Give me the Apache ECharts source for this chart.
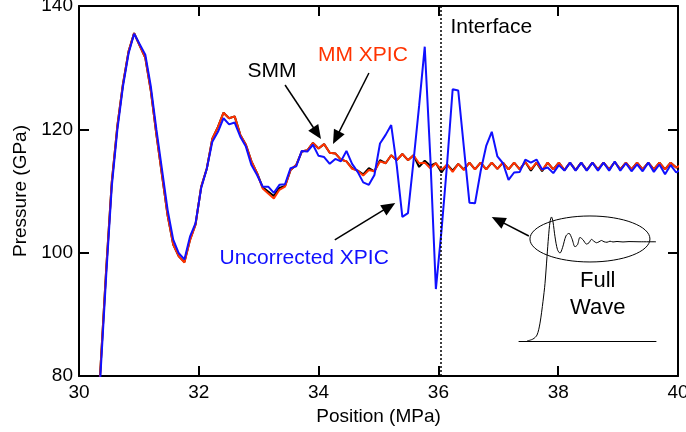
<!DOCTYPE html>
<html><head><meta charset="utf-8">
<script src="https://cdn.jsdelivr.net/npm/echarts/dist/echarts.min.js"></script>
<style>html,body{margin:0;padding:0;background:#fff}#c{width:686px;height:432px}</style>
</head><body><div id="c"></div>
<script>
// Positions (MPa) of the samples
const positions = [
 30.267,30.360,30.454,30.547,30.640,30.733,30.827,
 30.920,31.013,31.107,31.200,31.293,31.387,31.480,31.573,31.666,31.760,
 31.853,31.946,32.040,32.133,32.226,32.320,32.413,32.506,32.599,32.693,
 32.786,32.879,32.973,33.066,33.159,33.253,33.346,33.439,33.532,33.626,
 33.719,33.812,33.906,33.999,34.092,34.186,34.279,34.372,34.465,34.559,
 34.652,34.745,34.839,34.932,35.025,35.119,35.212,35.305,35.398,35.492,
 35.585,35.678,35.772,35.865,35.958,36.052,36.145,36.238,36.331,36.425,
 36.518,36.611,36.705,36.798,36.891,36.985,37.078,37.171,37.264,37.358,
 37.451,37.544,37.638,37.731,37.824,37.918,38.011,38.104,38.197,38.291,
 38.384,38.477,38.571,38.664,38.757,38.851,38.944,39.037,39.130,39.224,
 39.317,39.410,39.504,39.597,39.690,39.784,39.877,39.970,40.063
];
// MM XPIC (red)
const mmXpic = [
 67,81.5,97.3,111.4,120.5,127.3,132.6,
 135.6,133.6,131.6,126.2,119.1,112.5,106.0,101.3,99.4,98.4,
 102.0,104.6,110.7,113.6,118.5,120.4,122.7,121.8,122.1,119.1,
 117.5,114.8,112.9,110.4,109.6,108.8,110.2,110.7,113.4,114.2,
 116.4,116.6,117.8,116.9,117.6,116.2,116.1,115.1,114.8,113.6,
 113.3,112.5,113.4,113.2,114.8,114.5,115.8,115.0,116.0,115.0,
 115.8,114.5,114.6,113.7,114.5,113.4,114.3,113.1,114.4,113.4,
 114.6,113.5,114.6,113.5,114.6,113.6,114.6,113.5,114.6,113.5,
 114.7,113.5,114.6,113.4,114.6,113.5,114.6,113.4,114.6,113.4,
 114.6,113.4,114.6,113.5,114.6,113.5,114.7,113.5,114.6,113.5,
 114.6,113.5,114.6,113.5,114.6,113.5,114.6,113.8,114.3
];
// SMM (black)
const smm = [
 67,81.5,97.3,111.4,120.5,127.3,132.6,
 135.6,133.6,131.6,126.2,119.1,112.5,106.0,101.3,99.4,98.5,
 102.1,104.6,110.7,113.6,118.5,120.4,122.7,121.8,122.1,119.1,
 117.5,114.8,112.9,110.6,109.9,109.2,110.5,110.8,113.4,114.2,
 116.4,116.6,117.8,116.9,117.6,116.2,116.1,115.1,114.8,113.7,
 113.3,112.7,113.7,113.2,115.0,114.5,115.8,115.0,116.0,115.0,
 115.8,113.9,114.9,114.1,114.5,113.0,114.3,113.3,114.4,113.5,
 114.6,113.5,114.6,113.5,114.6,113.6,114.6,113.5,114.6,113.5,
 114.7,113.3,114.6,113.2,114.6,113.5,114.6,113.4,114.6,113.4,
 114.6,113.4,114.6,113.5,114.6,113.5,114.7,113.5,114.6,113.5,
 114.6,113.5,114.6,113.5,114.6,113.5,114.6,113.8,114.3
];
// Uncorrected XPIC (blue)
const uncorrected = [
 66,80.5,96.3,110.7,119.9,126.9,132.3,
 135.5,133.8,132.1,126.9,119.9,113.4,106.9,102.1,99.9,98.9,
 102.6,104.8,110.5,113.6,118.0,119.6,121.8,120.8,121.1,118.8,
 117.2,114.2,112.6,110.7,110.7,109.7,111.0,111.1,113.7,114.0,
 116.5,116.4,117.5,115.7,115.5,114.4,115.2,114.8,116.5,114.4,
 113.1,111.4,111.0,112.6,117.7,119.1,120.7,114.1,105.8,106.4,
 114.9,123.8,133.4,115.5,94.1,103.6,114.4,126.5,126.3,117.1,
 108.1,108.0,113.2,117.3,119.6,115.6,114.5,111.8,113.0,113.1,
 115.1,114.6,115.1,113.5,113.8,112.9,114.2,113.3,114.6,113.3,
 114.6,113.3,114.6,113.3,114.6,113.3,114.8,113.3,114.5,113.2,
 114.3,113.2,114.6,113.1,114.3,112.7,114.2,113.0,113.6
];
const interfacePos = 36.04;
// Inset "Full Wave" sketch (arbitrary units)
const insetX = [8,14,18,21,24,26,28,29.5,31,32.5,34,36,38.5,41,43.5,47,50,53,56,58.5,61,64,67.5,70,72.5,75,77.5,80,82.5,85,88,91,94,98,104,110,120,137];
const insetY = [0,0.02,0.06,0.18,0.4,0.58,0.85,1.05,1.2,1.25,1.2,1.05,0.92,0.886,0.94,1.06,1.085,1.03,0.95,0.97,1.044,1.02,0.977,0.99,1.024,1.005,0.99,1.0,1.013,1.0,0.995,1.006,0.998,1.003,0.998,1.002,1.0,1.0];

const FONT = '"Liberation Sans", Arial, Helvetica, sans-serif';
const pairs = arr => positions.map((x, i) => [x, arr[i]]);

const axisCommon = {
  axisLine: {show: true, lineStyle: {color: '#000', width: 2}},
  axisTick: {show: true, inside: true, length: 10, lineStyle: {color: '#000', width: 2}},
  splitLine: {show: false}
};

const option = {
  animation: false,
  backgroundColor: '#fff',
  grid: [
    {left: 79, right: 8, top: 6, bottom: 56, containLabel: false, outerBoundsMode: 'none'},
    {left: 519, top: 212, width: 137, height: 129, containLabel: false, outerBoundsMode: 'none'}
  ],
  xAxis: [
    Object.assign({type: 'value', gridIndex: 0, position: 'bottom', min: 30, max: 40, interval: 2,
      name: 'Position (MPa)', nameLocation: 'middle', nameGap: 28,
      nameTextStyle: {fontSize: 19, color: '#000', fontFamily: FONT},
      axisLabel: {fontSize: 19, color: '#000', fontFamily: FONT, margin: 7}}, axisCommon),
    Object.assign({type: 'value', gridIndex: 0, position: 'top', min: 30, max: 40, interval: 2,
      axisLabel: {show: false}}, axisCommon),
    {type: 'value', gridIndex: 1, min: 0, max: 137, axisLine: {show: true, lineStyle: {color: '#000', width: 1}},
      axisTick: {show: false}, axisLabel: {show: false}, splitLine: {show: false}}
  ],
  yAxis: [
    Object.assign({type: 'value', gridIndex: 0, position: 'left', min: 80, max: 140, interval: 20,
      name: 'Pressure (GPa)', nameLocation: 'middle', nameGap: 49, nameRotate: 90,
      nameTextStyle: {fontSize: 19, color: '#000', fontFamily: FONT},
      axisLabel: {fontSize: 19, color: '#000', fontFamily: FONT, margin: 6}}, axisCommon),
    Object.assign({type: 'value', gridIndex: 0, position: 'right', min: 80, max: 140, interval: 20,
      axisLabel: {show: false}}, axisCommon),
    {type: 'value', gridIndex: 1, min: 0, max: 1.3, show: false}
  ],
  series: [
    {name: 'SMM', type: 'line', xAxisIndex: 0, yAxisIndex: 0, data: pairs(smm), symbol: 'none',
      lineStyle: {color: '#000', width: 2}, z: 2,
      markLine: {silent: true, symbol: 'none', label: {show: false},
        lineStyle: {color: '#000', width: 1.5, type: [2, 2]}, data: [{xAxis: interfacePos}]}},
    {name: 'MM XPIC', type: 'line', xAxisIndex: 0, yAxisIndex: 0, data: pairs(mmXpic), symbol: 'none',
      lineStyle: {color: '#ff3300', width: 2}, z: 3},
    {name: 'Uncorrected XPIC', type: 'line', xAxisIndex: 0, yAxisIndex: 0, data: pairs(uncorrected), symbol: 'none',
      lineStyle: {color: '#1010ff', width: 2}, z: 4},
    {name: 'Full Wave', type: 'line', xAxisIndex: 2, yAxisIndex: 2, data: insetX.map((x, i) => [x, insetY[i]]),
      symbol: 'none', smooth: 0.3, lineStyle: {color: '#000', width: 1}}
  ]
};

const chart = echarts.init(document.getElementById('c'));
chart.setOption(option);

function P(p) { return chart.convertToPixel({xAxisIndex: 0, yAxisIndex: 0}, p); }
function arrow(from, to) {
  const a = P(from), b = P(to);
  const dx = b[0] - a[0], dy = b[1] - a[1], L = Math.hypot(dx, dy), ux = dx / L, uy = dy / L;
  const hl = 14, hw = 6;
  const bx = b[0] - ux * hl, by = b[1] - uy * hl;
  return [
    {type: 'line', shape: {x1: a[0], y1: a[1], x2: bx + ux * 2, y2: by + uy * 2}, style: {stroke: '#000', lineWidth: 1.5}, z: 100},
    {type: 'polygon', shape: {points: [[b[0], b[1]], [bx - uy * hw, by + ux * hw], [bx + uy * hw, by - ux * hw]]}, style: {fill: '#000'}, z: 100}
  ];
}
function label(text, at, color, size, align) {
  const p = P(at);
  return {type: 'text', x: p[0], y: p[1], z: 100,
    style: {text: text, fill: color, font: size + 'px ' + FONT, align: align || 'center', verticalAlign: 'middle',
      textAlign: align || 'center', textVerticalAlign: 'middle'}};
}
const ec = P([38.53, 102.22]);
const graphics = [].concat(
  arrow([33.44, 127.19], [34.04, 118.43]),
  arrow([34.84, 129.14], [34.24, 117.62]),
  arrow([34.27, 102.06], [35.28, 108.06]),
  arrow([37.51, 102.70], [36.89, 105.79]),
  [
    label('SMM', [33.22, 129.46], '#000', 21),
    label('MM XPIC', [34.74, 132.05], '#ff3300', 21),
    label('Uncorrected XPIC', [33.76, 99.14], '#1010ff', 21),
    label('Interface', [36.2, 136.6], '#000', 21, 'left'),
    label('Full', [38.66, 95.41], '#000', 22),
    label('Wave', [38.66, 91.03], '#000', 22),
    {type: 'ellipse', shape: {cx: ec[0], cy: ec[1], rx: 60, ry: 23}, style: {fill: 'none', stroke: '#000', lineWidth: 1}, z: 100}
  ]
);
chart.setOption({graphic: graphics});
</script>
</body></html>
